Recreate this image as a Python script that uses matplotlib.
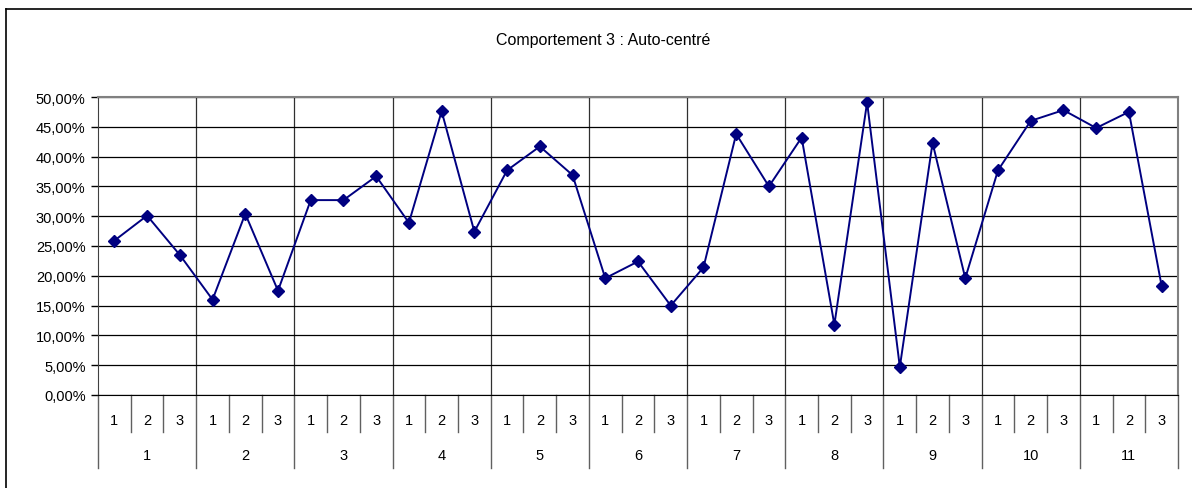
import matplotlib.pyplot as plt
from matplotlib.lines import Line2D
from matplotlib.ticker import FuncFormatter

plt.rcParams['font.family'] = ['Liberation Sans', 'DejaVu Sans']

groups = [str(g) for g in range(1, 12)]
sub_labels = ["1", "2", "3"]
values = [
    25.9, 30.1, 23.5,
    16.0, 30.4, 17.5,
    32.7, 32.7, 36.7,
    28.9, 47.6, 27.4,
    37.7, 41.7, 36.9,
    19.6, 22.4, 15.0,
    21.4, 43.8, 35.0,
    43.2, 11.8, 49.1,
    4.7, 42.3, 19.6,
    37.7, 46.0, 47.8,
    44.8, 47.5, 18.3,
]

n = len(values)
fig = plt.figure(figsize=(11.92, 4.89), dpi=100)
ax = fig.add_axes([98 / 1192, 93 / 489, 1080 / 1192, 298 / 489])

x = [i + 0.5 for i in range(n)]
ax.plot(x, values, color="#000080", lw=1.4, marker="D", ms=6.3,
        mec="#000080", mfc="#000080", zorder=3)

ax.set_xlim(0, n)
ax.set_ylim(0, 50)
ax.set_yticks(range(0, 51, 5))
ax.yaxis.set_major_formatter(FuncFormatter(lambda v, p: f"{v:.2f}".replace(".", ",") + "%"))
ax.tick_params(axis="y", length=5, width=1, labelsize=10.5, pad=4)
ax.set_xticks([])
ax.grid(axis="y", color="black", lw=0.9)
for b in range(3, n, 3):
    ax.axvline(b, color="#303030", lw=0.9, zorder=1)

for side in ["top", "right"]:
    ax.spines[side].set_color("#808080")
    ax.spines[side].set_linewidth(1.5)
ax.spines["left"].set_color("#404040")
ax.spines["bottom"].set_color("black")

# two-level category axis below the plot
trans = ax.get_xaxis_transform()
for i in range(n + 1):
    bottom = -0.245 if i % 3 == 0 else -0.124
    ax.add_line(Line2D([i, i], [0, bottom], transform=trans, color="#606060",
                       lw=1, clip_on=False))
for i in range(n):
    ax.text(i + 0.5, -0.085, sub_labels[i % 3], transform=trans,
            ha="center", va="center", fontsize=10.5)
for g, name in enumerate(groups):
    ax.text(3 * g + 1.5, -0.2, name, transform=trans,
            ha="center", va="center", fontsize=10.5)

fig.text(603 / 1192, 1 - 41 / 489, "Comportement 3 : Auto-centré",
         ha="center", va="center", fontsize=11.5)

# outer chart frame
fig.add_artist(Line2D([5.5 / 1192, 1], [1 - 9.5 / 489] * 2, color="black", lw=1.2))
fig.add_artist(Line2D([5.5 / 1192] * 2, [0, 1 - 9.5 / 489], color="black", lw=1.2))

fig.savefig("out.png", dpi=100)
